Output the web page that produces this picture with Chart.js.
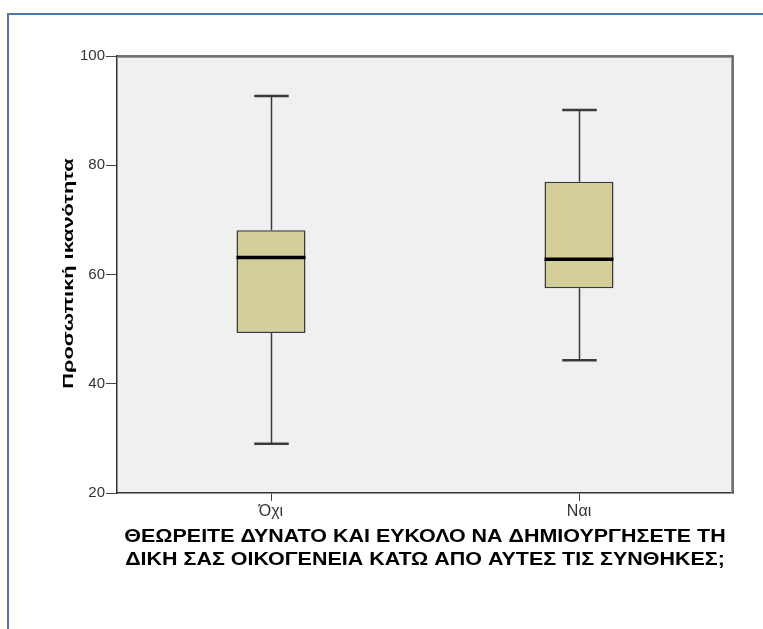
<!DOCTYPE html>
<html>
<head>
<meta charset="utf-8">
<style>
  html, body { margin: 0; padding: 0; background: #ffffff; }
  #wrap { position: relative; width: 763px; height: 629px; }
  canvas { display: block; }
</style>
<script src="https://cdn.jsdelivr.net/npm/chart.js@4/dist/chart.umd.min.js"></script>
</head>
<body>
<div id="wrap"><canvas id="c" width="763" height="629"></canvas></div>
<script>
// Groups on the x axis
const categories = ['Όχι', 'Ναι'];
// Five-number summaries per group
const whiskerLow  = [29.0, 44.3];
const quartile1   = [49.3, 57.5];
const medians     = [63.1, 62.8];
const quartile3   = [68.1, 77.0];
const whiskerHigh = [92.7, 90.1];
// Value axis
const yTicks = [20, 40, 60, 80, 100];

const yTitle = 'Προσωπική ικανότητα';
const xTitle = ['ΘΕΩΡΕΙΤΕ ΔΥΝΑΤΟ ΚΑΙ ΕΥΚΟΛΟ ΝΑ ΔΗΜΙΟΥΡΓΗΣΕΤΕ ΤΗ',
                'ΔΙΚΗ ΣΑΣ ΟΙΚΟΓΕΝΕΙΑ ΚΑΤΩ ΑΠΟ ΑΥΤΕΣ ΤΙΣ ΣΥΝΘΗΚΕΣ;'];

const boxes = categories.map((_, i) => [quartile1[i], quartile3[i]]);

// Frame, plot background and border
const framePlugin = {
  id: 'frame',
  beforeDraw(chart) {
    const ctx = chart.ctx;
    const a = chart.chartArea;
    ctx.save();
    // outer blue frame
    ctx.strokeStyle = '#4f78b8';
    ctx.lineWidth = 2;
    ctx.strokeRect(8, 14, 800, 700);
    // plot background
    ctx.fillStyle = '#f0f0f0';
    ctx.fillRect(a.left, a.top, a.right - a.left, a.bottom - a.top);
    ctx.restore();
  },
  afterDraw(chart) {
    const ctx = chart.ctx;
    const a = chart.chartArea;
    ctx.save();
    ctx.strokeStyle = '#9a9a9a';
    ctx.lineWidth = 1;
    ctx.beginPath();
    ctx.moveTo(a.left, a.top + 1.5);
    ctx.lineTo(a.right - 1.5, a.top + 1.5);
    ctx.lineTo(a.right - 1.5, a.bottom);
    ctx.stroke();
    ctx.strokeStyle = '#444444';
    ctx.lineWidth = 1.5;
    ctx.beginPath();
    ctx.moveTo(a.left, a.top);
    ctx.lineTo(a.right, a.top);
    ctx.lineTo(a.right, a.bottom);
    ctx.stroke();
    ctx.restore();
  }
};

// Axis titles, drawn with a horizontally widened face
const axisTitlePlugin = {
  id: 'axisTitles',
  afterDraw(chart) {
    const ctx = chart.ctx;
    const a = chart.chartArea;
    ctx.save();
    ctx.fillStyle = '#000000';
    ctx.textAlign = 'center';
    ctx.textBaseline = 'middle';
    ctx.font = "bold 19px 'Liberation Sans', Arial, sans-serif";
    const cx = (a.left + a.right) / 2;
    xTitle.forEach((line, k) => {
      ctx.save();
      ctx.translate(cx, a.bottom + 43.5 + k * 23);
      ctx.scale(1.13, 1);
      ctx.fillText(line, 0, 0);
      ctx.restore();
    });
    ctx.font = "bold 15px 'Liberation Sans', Arial, sans-serif";
    ctx.save();
    ctx.translate(a.left - 48, (a.top + a.bottom) / 2 - 1);
    ctx.rotate(-Math.PI / 2);
    ctx.scale(1.45, 1);
    ctx.fillText(yTitle, 0, 0);
    ctx.restore();
    ctx.restore();
  }
};

// Whiskers and medians, placed through the chart's scales
const boxplotPlugin = {
  id: 'boxplot',
  beforeDatasetsDraw(chart) {
    const ctx = chart.ctx;
    const y = chart.scales.y;
    const meta = chart.getDatasetMeta(0);
    ctx.save();
    meta.data.forEach((bar, i) => {
      const cx = Math.round(bar.x) + 0.5;
      const half = bar.width / 2;
      const capHalf = half / 2;
      const yLo = y.getPixelForValue(whiskerLow[i]);
      const yHi = y.getPixelForValue(whiskerHigh[i]);
      const yQ1 = y.getPixelForValue(quartile1[i]);
      const yQ3 = y.getPixelForValue(quartile3[i]);
      ctx.strokeStyle = '#3a3a3a';
      ctx.lineWidth = 1.5;
      ctx.beginPath();
      ctx.moveTo(cx, yHi); ctx.lineTo(cx, yQ3);
      ctx.moveTo(cx, yQ1); ctx.lineTo(cx, yLo);
      ctx.stroke();
      ctx.lineWidth = 2.5;
      ctx.beginPath();
      ctx.moveTo(cx - capHalf, yHi); ctx.lineTo(cx + capHalf, yHi);
      ctx.moveTo(cx - capHalf, yLo); ctx.lineTo(cx + capHalf, yLo);
      ctx.stroke();
    });
    ctx.restore();
  },
  afterDatasetsDraw(chart) {
    const ctx = chart.ctx;
    const y = chart.scales.y;
    const meta = chart.getDatasetMeta(0);
    ctx.save();
    meta.data.forEach((bar, i) => {
      const half = bar.width / 2;
      const ym = y.getPixelForValue(medians[i]);
      ctx.strokeStyle = '#000000';
      ctx.lineWidth = 3.5;
      ctx.beginPath();
      ctx.moveTo(bar.x - half, ym); ctx.lineTo(bar.x + half, ym);
      ctx.stroke();
    });
    ctx.restore();
  }
};

new Chart(document.getElementById('c'), {
  type: 'bar',
  data: {
    labels: categories,
    datasets: [{
      data: boxes,
      backgroundColor: '#d4cf99',
      borderColor: '#3a3a3a',
      borderWidth: 1.5,
      borderSkipped: false,
      categoryPercentage: 1,
      barPercentage: 0.224
    }]
  },
  plugins: [framePlugin, boxplotPlugin, axisTitlePlugin],
  options: {
    responsive: false,
    animation: false,
    devicePixelRatio: 1,
    layout: { padding: { top: 56, right: 30, left: 57, bottom: 0 } },
    plugins: {
      legend: { display: false },
      tooltip: { enabled: false }
    },
    scales: {
      x: {
        afterFit(s) { s.height = 136; },
        grid: { offset: false, drawOnChartArea: false, drawTicks: true, tickLength: 8, color: '#444444' },
        border: { display: true, color: '#333333', width: 1.5 },
        ticks: {
          padding: 1,
          color: '#333333',
          font: { family: "'Liberation Sans Narrow', 'Liberation Sans', Arial, sans-serif", size: 16 }
        },
        title: { display: false }
      },
      y: {
        min: 20,
        max: 100,
        afterFit(s) { s.width = 60; },
        afterBuildTicks(s) { s.ticks = yTicks.map(v => ({ value: v })); },
        grid: { drawOnChartArea: false, drawTicks: true, tickLength: 11, color: '#444444' },
        border: { display: true, color: '#333333', width: 1.5 },
        ticks: {
          padding: 1,
          color: '#333333',
          font: { family: "'Liberation Sans', Arial, sans-serif", size: 15 }
        },
        title: { display: false }
      }
    }
  }
});
</script>
</body>
</html>
